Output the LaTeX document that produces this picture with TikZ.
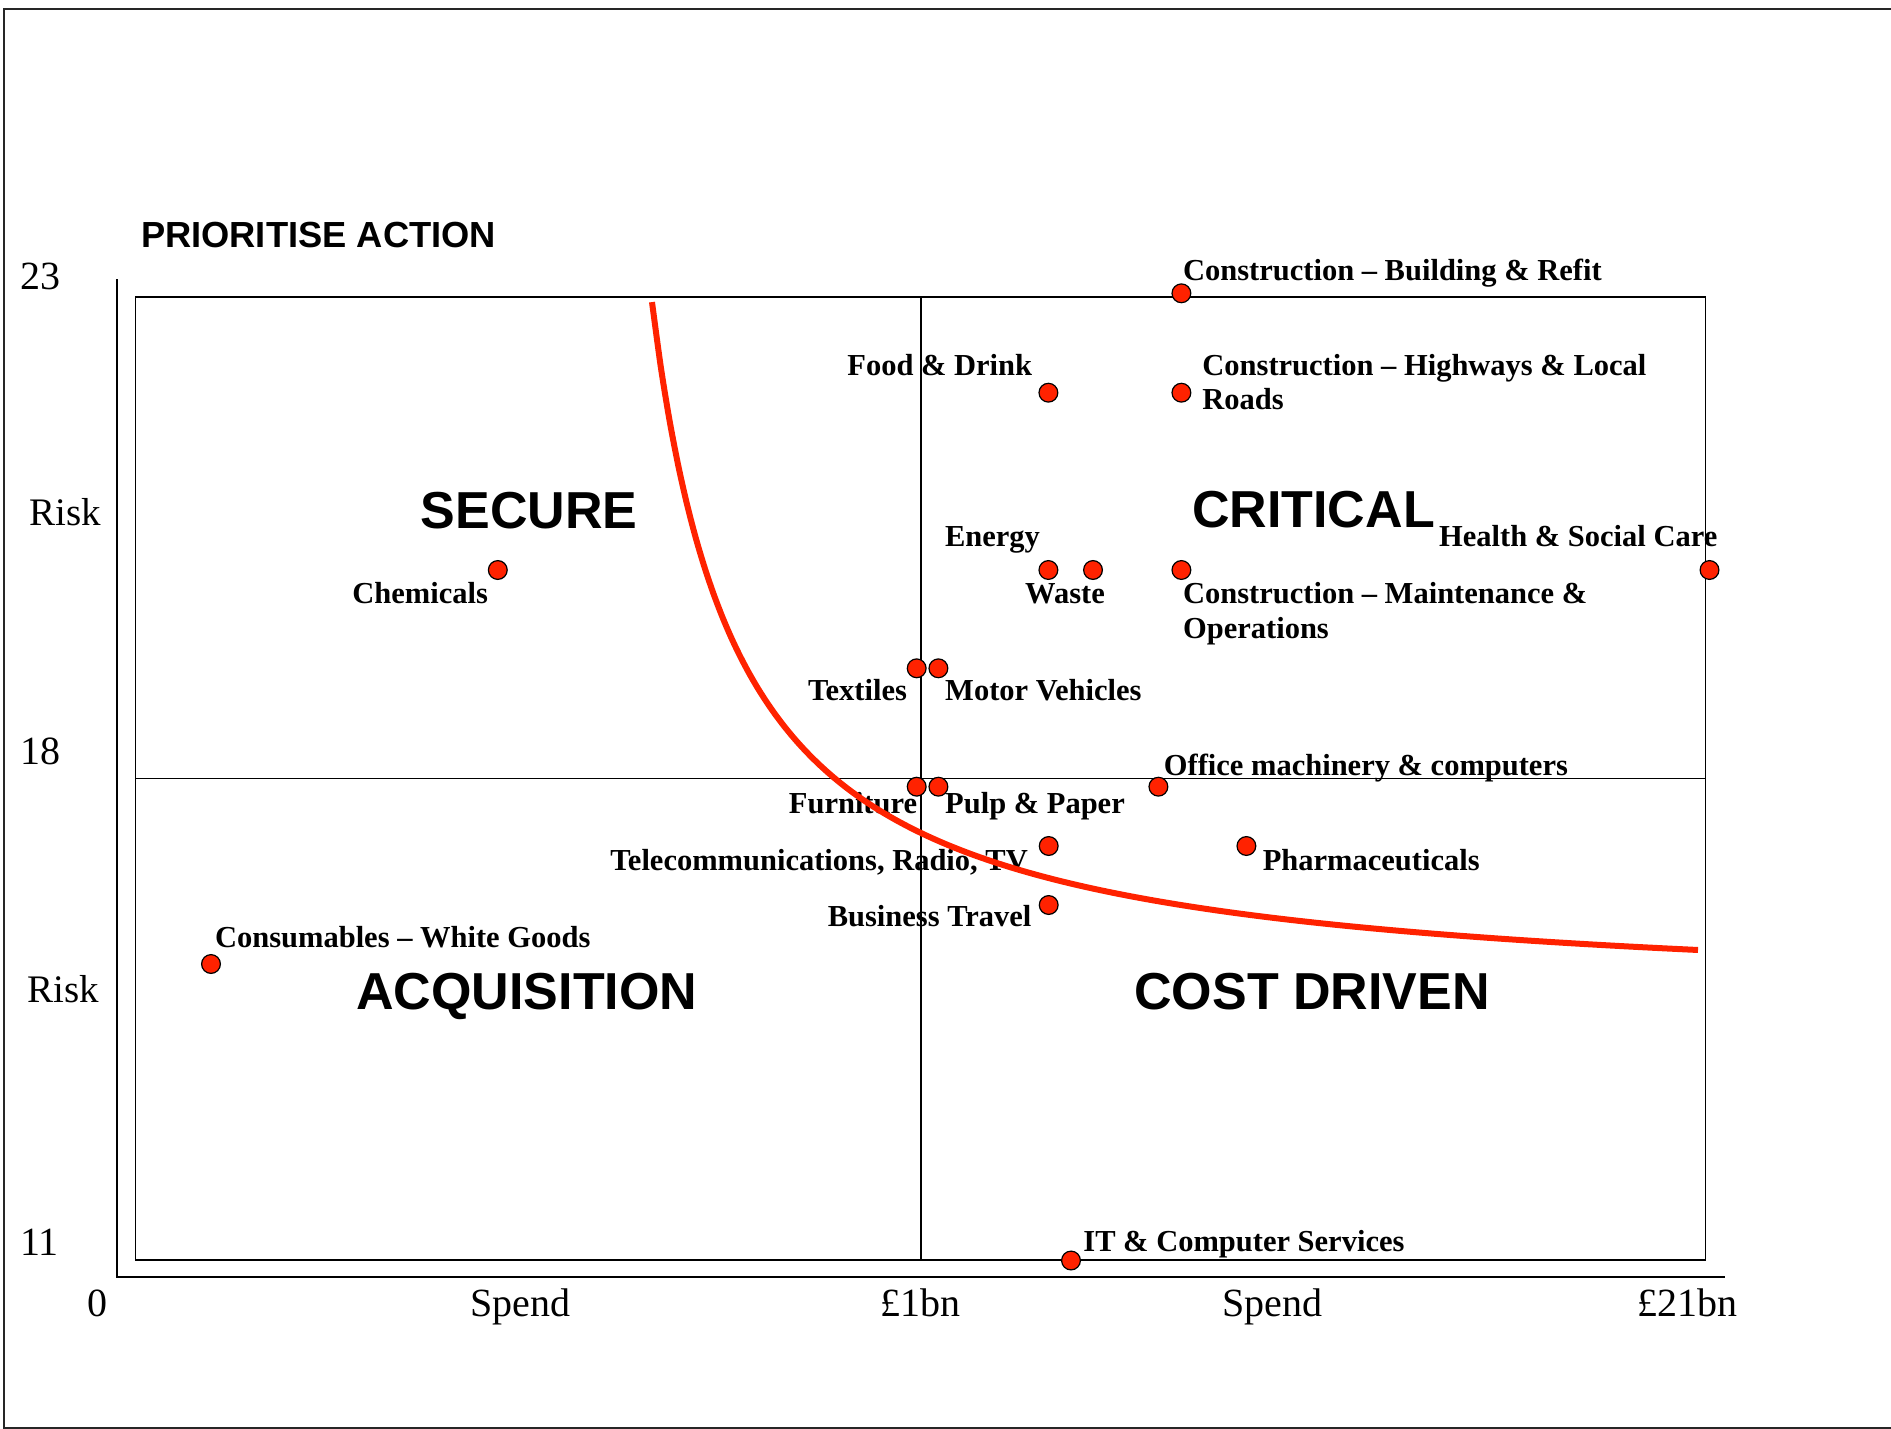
\documentclass[tikz,border=0pt]{standalone}
\usepackage{fontspec}
\setmainfont{Liberation Serif}
\newfontfamily\arialfont{Liberation Sans}
\definecolor{dotred}{RGB}{255,34,0}
\begin{document}
\begin{tikzpicture}[x=0.5pt,y=-0.5pt,
  frameline/.style={draw=black!85,line width=1pt},
  gridline/.style={draw=black,line width=0.9pt},
  dot/.style={circle,fill=dotred,draw=black,line width=0.6pt,minimum size=9.4pt,inner sep=0pt},
  lab/.style={anchor=base west,inner sep=0pt,font=\bfseries\fontsize{15.25}{17}\selectfont},
  ax/.style={anchor=base west,inner sep=0pt,font=\fontsize{20}{24}\selectfont},
  quad/.style={anchor=base west,inner sep=0pt,font=\arialfont\bfseries\fontsize{26}{30}\selectfont},
  curve/.style={draw=dotred,line width=3pt}]
\useasboundingbox (0,0) rectangle (1891,1429);
% outer frame (right side open)
\coordinate (ftr) at (1891,9.5);
\coordinate (ftl) at (4,9.5);
\coordinate (fbl) at (4,1427.5);
\coordinate (fbr) at (1891,1427.5);
\draw[frameline] (ftr) -- (ftl) -- (fbl) -- (fbr);
% axes
\coordinate (ytop) at (117,279);
\coordinate (orig) at (117,1277);
\coordinate (xend) at (1725,1277);
\draw[gridline] (ytop) -- (orig) -- (xend);
% plot box
\coordinate (bl) at (135.5,1260.3);
\coordinate (tr) at (1705.5,296.6);
\draw[gridline] (bl) rectangle (tr);
\coordinate (vt) at (920.7,296.6);
\coordinate (vb) at (920.7,1260.3);
\coordinate (hl) at (135.5,778.5);
\coordinate (hr) at (1705.5,778.5);
\draw[gridline] (vt) -- (vb);
\draw[gridline] (hl) -- (hr);
% title and axis labels
\node[anchor=base west,inner sep=0pt,font=\arialfont\bfseries\fontsize{18.15}{21}\selectfont] (title) at (140.6,248) {PRIORITISE ACTION};
\node[ax] (y23) at (20,289) {23};
\node[ax,font=\fontsize{19.5}{23}\selectfont] (risk1) at (29,525) {Risk};
\node[ax] (y18) at (20,764) {18};
\node[ax,font=\fontsize{19.5}{23}\selectfont] (risk2) at (27,1002) {Risk};
\node[ax] (y11) at (20,1255) {11};
\node[ax] (x0) at (87,1316) {0};
\node[ax] (sp1) at (470,1316) {Spend};
\node[ax] (x1bn) at (880,1316) {£1bn};
\node[ax] (sp2) at (1222,1316) {Spend};
\node[ax] (x21bn) at (1637,1316) {£21bn};
% quadrant labels
\node[quad] (secure) at (420.5,528) {SECURE};
\node[quad] (critical) at (1191.8,527.3) {CRITICAL};
\node[quad] (acq) at (356,1009.6) {ACQUISITION};
\node[quad] (cost) at (1134,1009.6) {COST DRIVEN};
% item labels
\node[lab] (lbuild) at (1182.7,280.7) {Construction – Building \& Refit};
\node[lab] (lfood) at (847,375) {Food \& Drink};
\node[lab] (lhwy) at (1202,375) {Construction – Highways \& Local};
\node[lab] (lhwy2) at (1202,409) {Roads};
\node[lab] (lchem) at (352,603) {Chemicals};
\node[lab] (lenergy) at (944.7,546.7) {Energy};
\node[lab] (lhealth) at (1438.8,546.7) {Health \& Social Care};
\node[lab] (lwaste) at (1024.8,603) {Waste};
\node[lab] (lmaint) at (1182.7,603) {Construction – Maintenance \&};
\node[lab] (lmaint2) at (1182.7,638) {Operations};
\node[lab] (ltext) at (807.7,700) {Textiles};
\node[lab] (lmotor) at (944.8,700) {Motor Vehicles};
\node[lab] (loffice) at (1163.5,775) {Office machinery \& computers};
\node[lab] (lfurn) at (788.5,813) {Furniture};
\node[lab] (lpulp) at (944.8,813) {Pulp \& Paper};
\node[lab] (ltel) at (610,870) {Telecommunications, Radio, TV};
\node[lab] (lpharma) at (1262.4,870) {Pharmaceuticals};
\node[lab] (lbus) at (827.4,926.7) {Business Travel};
\node[lab] (lcons) at (214.7,947) {Consumables – White Goods};
\node[lab] (lit) at (1083,1251) {IT \& Computer Services};
% curve
\draw[curve] plot[domain=652:1698,samples=120,smooth] (\x,{1003.5-100*(606.01/(\x-565.6))});
% dots
\node[dot] (dbuild) at (1181.4,293.3) {};
\node[dot] (dfood) at (1048.4,392.7) {};
\node[dot] (dhwy) at (1181.4,392.7) {};
\node[dot] (dchem) at (497.8,570) {};
\node[dot] (denergy) at (1048.4,570) {};
\node[dot] (dwaste) at (1093,570) {};
\node[dot] (dmaint) at (1181.4,570) {};
\node[dot] (dhealth) at (1709.5,570) {};
\node[dot] (dtext) at (916.7,668.3) {};
\node[dot] (dmotor) at (938.4,668.3) {};
\node[dot] (dfurn) at (916.7,786.7) {};
\node[dot] (dpulp) at (938.4,786.7) {};
\node[dot] (doffice) at (1158.4,786.7) {};
\node[dot] (dtel) at (1048.7,846) {};
\node[dot] (dpharma) at (1246.4,846) {};
\node[dot] (dbus) at (1048.7,905) {};
\node[dot] (dcons) at (211,964) {};
\node[dot] (dit) at (1071,1260.5) {};
\end{tikzpicture}
\end{document}
